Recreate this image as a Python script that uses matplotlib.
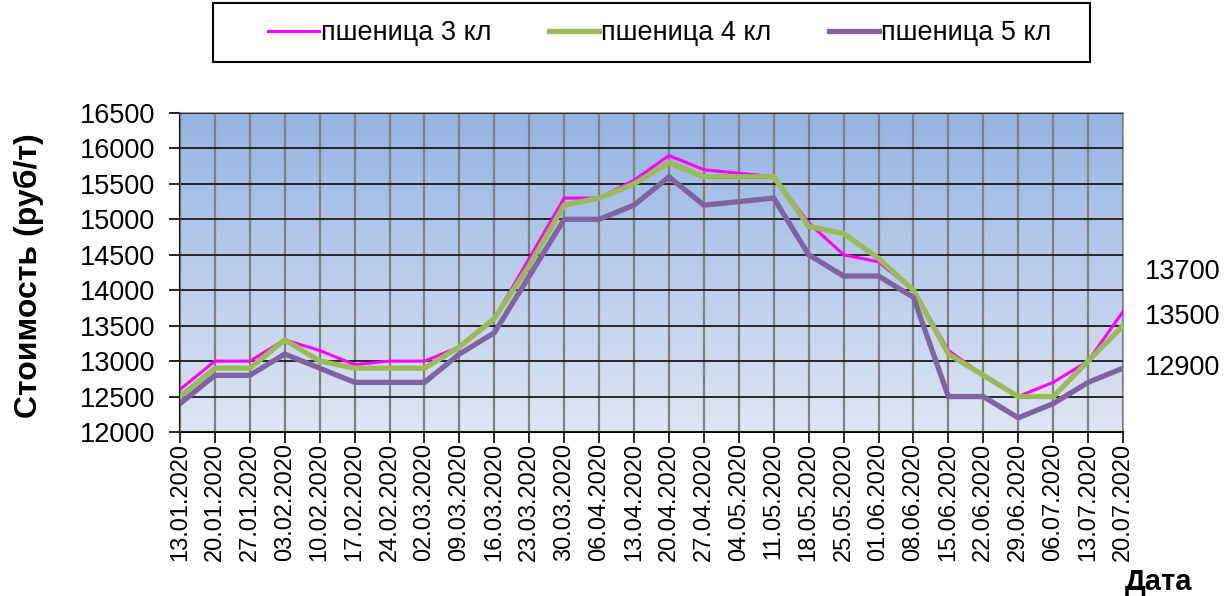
import numpy as np
import matplotlib
matplotlib.use("Agg")
import matplotlib.pyplot as plt
from matplotlib.colors import LinearSegmentedColormap
from matplotlib.patches import Rectangle

plt.rcParams['font.family'] = ['Liberation Sans', 'DejaVu Sans']

dates = ["13.01.2020", "20.01.2020", "27.01.2020", "03.02.2020", "10.02.2020",
         "17.02.2020", "24.02.2020", "02.03.2020", "09.03.2020", "16.03.2020",
         "23.03.2020", "30.03.2020", "06.04.2020", "13.04.2020", "20.04.2020",
         "27.04.2020", "04.05.2020", "11.05.2020", "18.05.2020", "25.05.2020",
         "01.06.2020", "08.06.2020", "15.06.2020", "22.06.2020", "29.06.2020",
         "06.07.2020", "13.07.2020", "20.07.2020"]

wheat3 = [12600, 13000, 13000, 13300, 13150, 12950, 13000, 13000, 13200, 13600,
          14450, 15300, 15300, 15550, 15900, 15700, 15650, 15600, 14950, 14500,
          14400, 14000, 13150, 12800, 12500, 12700, 13000, 13700]
wheat4 = [12500, 12900, 12900, 13300, 13000, 12900, 12900, 12900, 13200, 13600,
          14350, 15200, 15300, 15500, 15800, 15600, 15600, 15600, 14900, 14800,
          14450, 14000, 13100, 12800, 12500, 12500, 13000, 13500]
wheat5 = [12400, 12800, 12800, 13100, 12900, 12700, 12700, 12700, 13100, 13400,
          14200, 15000, 15000, 15200, 15600, 15200, 15250, 15300, 14500, 14200,
          14200, 13900, 12500, 12500, 12200, 12400, 12700, 12900]

names = ["пшеница 3 кл", "пшеница 4 кл", "пшеница 5 кл"]
colors = ["#ff00ff", "#9bbb59", "#8064a2"]

W, H = 1229, 596
fig = plt.figure(figsize=(W / 100, H / 100), dpi=100)
ax = fig.add_axes([180/W, 1 - 432/H, 943/W, 319/H])

x = np.arange(len(dates))

# gradient background
cmap = LinearSegmentedColormap.from_list("bg", ["#dfe6f4", "#95b3e2"])
grad = np.linspace(0, 1, 256).reshape(-1, 1)
ax.imshow(grad, extent=[0, len(dates) - 1, 12000, 16500], origin="lower",
          aspect="auto", cmap=cmap, zorder=0)

lws = [2.2, 3.8, 3.8]
for vals, name, c, lw in zip([wheat3, wheat4, wheat5], names, colors, lws):
    ax.plot(x, vals, color=c, lw=lw, label=name, zorder=3, solid_joinstyle="miter")

ax.set_xlim(0, len(dates) - 1)
ax.set_ylim(12000, 16500)
ax.set_yticks(np.arange(12000, 16501, 500))
ax.set_xticks(x)
ax.set_xticklabels(dates, rotation=90, fontsize=17)
ax.tick_params(axis="y", labelsize=19.5, length=8, width=1.2, direction="out", pad=10)
ax.tick_params(axis="x", length=8, width=1.2, direction="out", pad=0)

ax.grid(axis="y", color="#1a1a1a", lw=1.3, zorder=1)
ax.grid(axis="x", color="#808080", lw=1.6, zorder=1)
ax.set_axisbelow(False)
for sp in ["top", "right"]:
    ax.spines[sp].set_color("#a0a0a0")
    ax.spines[sp].set_linewidth(1.5)
for sp in ["left", "bottom"]:
    ax.spines[sp].set_color("black")
    ax.spines[sp].set_linewidth(1.5)

ax.set_ylabel("Стоимость (руб/т)", fontsize=23, fontweight="bold")
ax.yaxis.set_label_coords((44 - 180) / 943, 0.49)
fig.text(1125/W, 1 - 582/H, "Дата", fontsize=21, fontweight="bold",
         ha="left", va="center")

# end value labels
last = [wheat3[-1], wheat4[-1], wheat5[-1]]
label_y = [272, 317, 368]
for v, yy in zip(last, label_y):
    fig.text(1145/W, 1 - yy/H, str(v), fontsize=19.5, ha="left", va="center")

# legend with its own box
fig.patches.append(Rectangle((213/W, 1 - 62/H), 877/W, 59/H, transform=fig.transFigure,
                             facecolor="white", edgecolor="black", lw=1.5))
leg = fig.legend(loc="center", bbox_to_anchor=(660/W, 1 - 33/H), ncol=3,
                 fontsize=19.5, frameon=False, handlelength=1.85,
                 handletextpad=0.1, columnspacing=2.1)

fig.savefig("out.png", dpi=100)
